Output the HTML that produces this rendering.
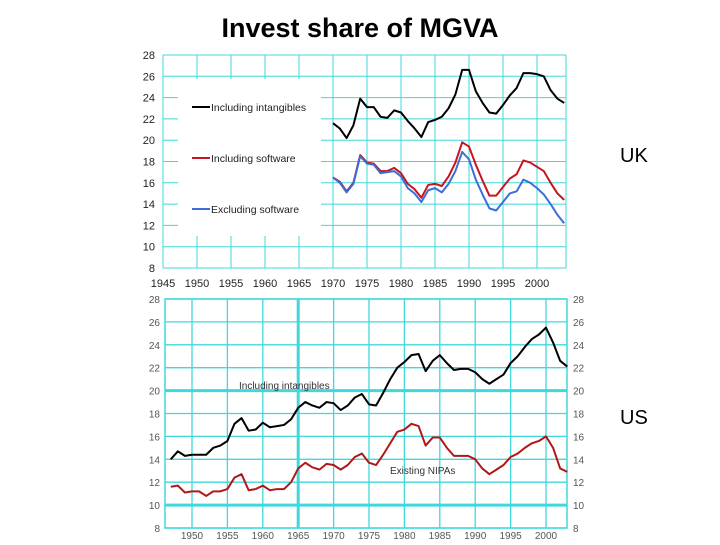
<!DOCTYPE html>
<html><head><meta charset="utf-8"><style>
body{margin:0;background:#fff;width:720px;height:540px;overflow:hidden;font-family:"Liberation Sans",Arial,sans-serif}
</style></head><body>
<svg id="svg" width="720" height="540" xmlns="http://www.w3.org/2000/svg" font-family="Liberation Sans, Arial, sans-serif">
<text x="360" y="37" text-anchor="middle" font-size="27" font-weight="bold">Invest share of MGVA</text>
<text x="620" y="162" font-size="20">UK</text>
<text x="620" y="424" font-size="20">US</text>
<g id="top"></g>
<g id="bot"></g>
</svg>
<script>
const ukYears=[1970,1971,1972,1973,1974,1975,1976,1977,1978,1979,1980,1981,1982,1983,1984,1985,1986,1987,1988,1989,1990,1991,1992,1993,1994,1995,1996,1997,1998,1999,2000,2001,2002,2003,2004];
const ukIntangibles=[21.6,21.1,20.2,21.4,23.9,23.1,23.1,22.2,22.1,22.8,22.6,21.8,21.1,20.3,21.7,21.9,22.2,23.0,24.3,26.6,26.6,24.6,23.5,22.6,22.5,23.3,24.2,24.9,26.3,26.3,26.2,26.0,24.7,23.9,23.5];
const ukSoftware=[16.5,16.1,15.2,16.0,18.6,17.9,17.8,17.1,17.1,17.4,16.9,15.9,15.4,14.6,15.8,15.9,15.7,16.6,17.9,19.8,19.4,17.7,16.2,14.8,14.8,15.6,16.4,16.8,18.1,17.9,17.5,17.1,16.0,15.0,14.4];
const ukExSoftware=[16.5,16.0,15.1,15.9,18.5,17.8,17.7,16.9,17.0,17.1,16.6,15.5,15.0,14.2,15.3,15.5,15.1,15.9,17.1,18.9,18.2,16.3,14.9,13.6,13.4,14.2,15.0,15.2,16.3,16.0,15.5,14.9,14.0,13.0,12.2];
const usYearStart=1947;
const usIntangibles=[14.0,14.7,14.3,14.4,14.4,14.4,15.0,15.2,15.6,17.1,17.6,16.5,16.6,17.2,16.8,16.9,17.0,17.5,18.5,19.0,18.7,18.5,19.0,18.9,18.3,18.7,19.4,19.7,18.8,18.7,19.8,21.0,22.0,22.5,23.1,23.2,21.7,22.6,23.1,22.4,21.8,21.9,21.9,21.6,21.0,20.6,21.0,21.4,22.4,23.0,23.8,24.5,24.9,25.5,24.2,22.6,22.1];
const usNIPA=[11.6,11.7,11.1,11.2,11.2,10.8,11.2,11.2,11.4,12.4,12.7,11.3,11.4,11.7,11.3,11.4,11.4,12.0,13.2,13.7,13.3,13.1,13.6,13.5,13.1,13.5,14.2,14.5,13.7,13.5,14.4,15.4,16.4,16.6,17.1,16.9,15.2,15.9,15.9,15.0,14.3,14.3,14.3,14.0,13.2,12.7,13.1,13.5,14.2,14.5,15.0,15.4,15.6,16.0,15.0,13.2,12.9];
const yTicks=[8,10,12,14,16,18,20,22,24,26,28];
const ukXTicks=[1945,1950,1955,1960,1965,1970,1975,1980,1985,1990,1995,2000];
const usXTicks=[1950,1955,1960,1965,1970,1975,1980,1985,1990,1995,2000];
const NS='http://www.w3.org/2000/svg';
function mk(p,t,a){const e=document.createElementNS(NS,t);for(const k in a)e.setAttribute(k,a[k]);p.appendChild(e);return e;}
const GRID='#3fd8dc';
const T=document.getElementById('top');
const tx=y=>163+(y-1945)*6.8, ty=v=>268-(v-8)*10.65;
for(const v of yTicks){const l=mk(T,'line',{x1:163,x2:566,y1:ty(v),y2:ty(v),stroke:GRID,'stroke-width':1});

const t=mk(T,'text',{x:155,y:ty(v)+4,'text-anchor':'end','font-size':11,fill:'#222'});t.textContent=v;
}
for(const y of ukXTicks){const l=mk(T,'line',{x1:tx(y),x2:tx(y),y1:ty(28),y2:ty(8),stroke:GRID,'stroke-width':1});

const t=mk(T,'text',{x:tx(y),y:287,'text-anchor':'middle','font-size':11,fill:'#222'});t.textContent=y;
}
mk(T,'line',{x1:566,x2:566,y1:ty(28),y2:ty(8),stroke:GRID});
const lg=mk(T,'rect',{x:178,y:79,width:143,height:157,fill:'#fff'});

const leg=[['Including intangibles','#000',107],['Including software','#c8141e',158],['Excluding software','#3a6fd8',209]];
for(const [n,c,y] of leg){const l=mk(T,'line',{x1:192,x2:210,y1:y,y2:y,stroke:c,'stroke-width':2});

const t=mk(T,'text',{x:211,y:y+4,'font-size':10.5,fill:'#222'});t.textContent=n;
}
function line(g,xs,vs,fx,fy,c,name){const p=mk(g,'polyline',{points:vs.map((v,i)=>fx(xs[i])+','+fy(v)).join(' '),fill:'none',stroke:c,'stroke-width':2,'stroke-linejoin':'round'});
}
line(T,ukYears,ukIntangibles,tx,ty,'#000','uk-intangibles-line');
line(T,ukYears,ukSoftware,tx,ty,'#c8141e','uk-software-line');
line(T,ukYears,ukExSoftware,tx,ty,'#3a6fd8','uk-ex-software-line');
const B=document.getElementById('bot');
const bx=y=>192+(y-1950)*7.08, by=v=>528-(v-8)*11.45;
mk(B,'rect',{x:165,y:299,width:402,height:229,fill:'none',stroke:GRID,'stroke-width':1.5});
for(const v of yTicks){const thick=(v===10||v===20);const l=mk(B,'line',{x1:165,x2:567,y1:by(v),y2:by(v),stroke:GRID,'stroke-width':thick?3:1.3});

const t=mk(B,'text',{x:160,y:by(v)+4,'text-anchor':'end','font-size':10,fill:'#555'});t.textContent=v;

const t2=mk(B,'text',{x:573,y:by(v)+4,'font-size':10,fill:'#555'});t2.textContent=v;
}
for(const y of usXTicks){const l=mk(B,'line',{x1:bx(y),x2:bx(y),y1:299,y2:528,stroke:GRID,'stroke-width':y===1965?3:1.3});

const t=mk(B,'text',{x:bx(y),y:539,'text-anchor':'middle','font-size':10,fill:'#555'});t.textContent=y;
}
const usYears=usIntangibles.map((_,i)=>usYearStart+i);
line(B,usYears,usIntangibles,bx,by,'#000','us-intangibles-line');
line(B,usYears,usNIPA,bx,by,'#b01818','us-nipa-line');
const a=mk(B,'text',{x:239,y:389,'font-size':10,fill:'#333'});a.textContent='Including intangibles';

const b=mk(B,'text',{x:390,y:474,'font-size':10,fill:'#333'});b.textContent='Existing NIPAs';

</script>
</body></html>
